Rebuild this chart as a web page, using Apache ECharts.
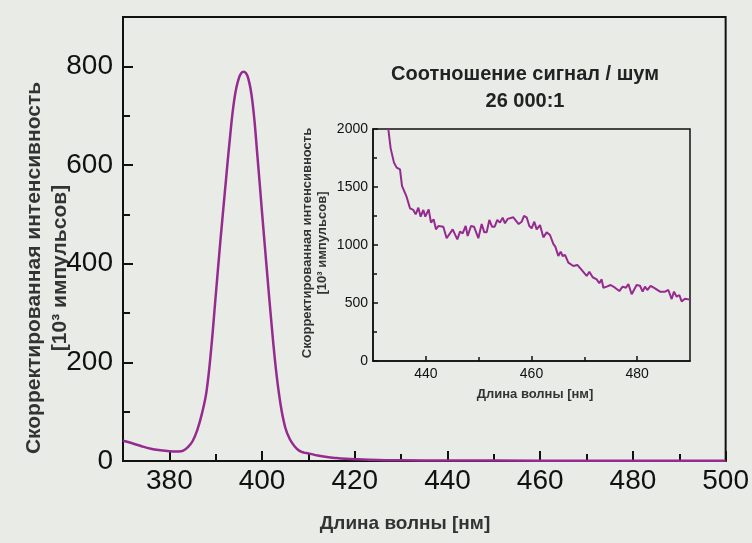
<!DOCTYPE html>
<html><head><meta charset="utf-8">
<script src="https://cdn.jsdelivr.net/npm/echarts@6/dist/echarts.min.js"></script>
<style>html,body{margin:0;padding:0;background:#e9ebe7}#c{width:752px;height:543px}</style>
</head><body><div id="c"></div>
<script>
// Main spectrum
const mainWavelength = [370,372,374,376,378,380,382,383,384,385,386,387,388,389,390,391,392,393,394,395,396,397,398,399,400,401,402,403,404,405,406,407,408,409,410,412,414,416,418,420,425,430,440,460,480,500];
const mainIntensity  = [41,36,30,25,22,20,19.5,21,28,40,62,95,140,225,335,445,548,648,732,776,789,776,722,618,503,391,282,185,114,68,44,30,21,17,15.5,11,8,6,4.5,3.5,2,1.5,1,0.7,0.5,0.5];
// Inset (noise region)
const insetWavelength = [432.90,433.34,433.97,434.48,435.11,435.49,436.37,437.00,437.63,438.08,438.58,439.02,439.53,439.90,440.54,440.98,441.48,441.92,442.37,443.31,443.94,445.08,445.96,446.47,446.97,447.54,447.92,448.55,449.12,449.94,450.57,451.07,451.51,452.02,452.52,453.03,453.53,454.04,454.54,454.98,455.49,456.56,457.57,458.14,458.58,459.08,459.59,460.03,460.53,460.98,461.61,462.24,462.87,463.50,464.13,464.51,465.08,465.52,465.90,466.34,466.97,467.92,468.67,469.49,470.44,470.95,471.58,472.33,472.84,473.28,473.60,474.23,474.98,475.80,476.62,477.25,477.88,478.33,478.96,479.90,480.53,481.04,481.48,481.92,482.55,483.37,484.32,485.27,485.90,486.53,486.97,487.48,487.98,488.42,489.05,490.00];
const insetIntensity  = [2000,1833,1710,1667,1652,1509,1414,1316,1302,1264,1322,1244,1302,1244,1307,1193,1222,1135,1164,1158,1058,1135,1049,1115,1101,1164,1078,1164,1158,1058,1181,1109,1109,1216,1158,1158,1216,1193,1236,1187,1225,1239,1181,1201,1250,1239,1164,1144,1201,1135,1172,1066,1109,1086,1009,986,905,943,905,914,848,819,828,785,733,770,722,704,670,704,632,641,655,632,603,641,632,664,575,655,649,598,641,612,647,626,598,598,612,534,598,554,569,514,537,529];
// Ticks
const mainXTicks = [380,400,420,440,460,480,500];
const mainXMinor = [390,410,430,450,470,490];
const mainYTicks = [0,200,400,600,800];
const mainYMinor = [100,300,500,700];
const insetXTicks = [440,460,480];
const insetXMinor = [450,470];
const insetYTicks = [0,500,1000,1500,2000];
const insetYMinor = [250,750,1250,1750];

const FONT = '"Liberation Sans", Arial, sans-serif';
const LINE = '#952a8f';
const INK = '#111';
const zip = (a,b) => a.map((v,i)=>[v,b[i]]);

function axis(opts, gridIndex, min, max, ticks, minor, tickLen, minorLen, lw, fs, margin, labels) {
  const base = {type:'value', gridIndex, min, max, splitLine:{show:false}};
  return [
    Object.assign({}, base, {
      axisLine:{show:true, onZero:false, lineStyle:{color:INK, width:lw}},
      axisTick:{show:true, inside:true, length:tickLen, customValues:ticks, lineStyle:{color:INK, width:lw}},
      axisLabel:{show:true, customValues:labels, fontSize:fs, fontFamily:FONT, color:INK, margin, formatter:(v)=>String(v)}
    }, opts),
    Object.assign({}, base, {
      axisLine:{show:false},
      axisTick:{show:true, inside:true, length:minorLen, customValues:minor, lineStyle:{color:INK, width:lw}},
      axisLabel:{show:false}
    }, opts)
  ];
}

const xAxes = [
  ...axis({position:'bottom'}, 0, 370, 500, mainXTicks, mainXMinor, 10, 7, 2, 28, 6, mainXTicks),
  ...axis({position:'bottom'}, 1, 430, 490, insetXTicks, insetXMinor, 5, 4, 1.5, 14, 6, insetXTicks)
];
const yAxes = [
  ...axis({position:'left'}, 0, 0, 900, mainYTicks, mainYMinor, 10, 7, 2, 28, 10, mainYTicks),
  ...axis({position:'left'}, 1, 0, 2000, insetYTicks, insetYMinor, 5, 4, 1.5, 14, 5, insetYTicks)
];

const chart = echarts.init(document.getElementById('c'), null, {renderer:'canvas'});
chart.setOption({
  backgroundColor:'#e9ebe7',
  animation:false,
  grid:[
    {left:123, top:17, width:605, height:444, show:true, borderColor:INK, borderWidth:2, backgroundColor:'transparent'},
    {left:373, top:129, width:317, height:232, show:true, borderColor:INK, borderWidth:1.5, backgroundColor:'transparent'}
  ],
  xAxis: xAxes,
  yAxis: yAxes,
  series:[
    {type:'line', xAxisIndex:0, yAxisIndex:0, data:zip(mainWavelength, mainIntensity), smooth:0.4, showSymbol:false, lineStyle:{color:LINE, width:2.5}},
    {type:'line', xAxisIndex:2, yAxisIndex:2, data:zip(insetWavelength, insetIntensity), smooth:false, showSymbol:false, lineStyle:{color:LINE, width:2}}
  ],
  graphic:[
    {type:'text', x:405, y:524, style:{text:'Длина волны [нм]', font:'bold 19px '+FONT, fill:'#333', align:'center', verticalAlign:'middle', textAlign:'center', textVerticalAlign:'middle'}},
    {type:'text', x:47, y:268, rotation:Math.PI/2, style:{text:'Скорректированная интенсивность\n[10³ импульсов]', font:'bold 21px '+FONT, fill:'#333', align:'center', verticalAlign:'middle', textAlign:'center', textVerticalAlign:'middle', lineHeight:26}},
    {type:'text', x:315, y:243, rotation:Math.PI/2, style:{text:'Скорректированная интенсивность\n[10³ импульсов]', font:'bold 13px '+FONT, fill:'#333', align:'center', verticalAlign:'middle', textAlign:'center', textVerticalAlign:'middle', lineHeight:15}},
    {type:'text', x:535, y:394, style:{text:'Длина волны [нм]', font:'bold 13px '+FONT, fill:'#333', align:'center', verticalAlign:'middle', textAlign:'center', textVerticalAlign:'middle'}},
    {type:'text', x:525, y:88, style:{text:'Соотношение сигнал / шум\n26 000:1', font:'bold 20px '+FONT, fill:'#222', align:'center', verticalAlign:'middle', textAlign:'center', textVerticalAlign:'middle', lineHeight:27}}
  ]
});
</script></body></html>
